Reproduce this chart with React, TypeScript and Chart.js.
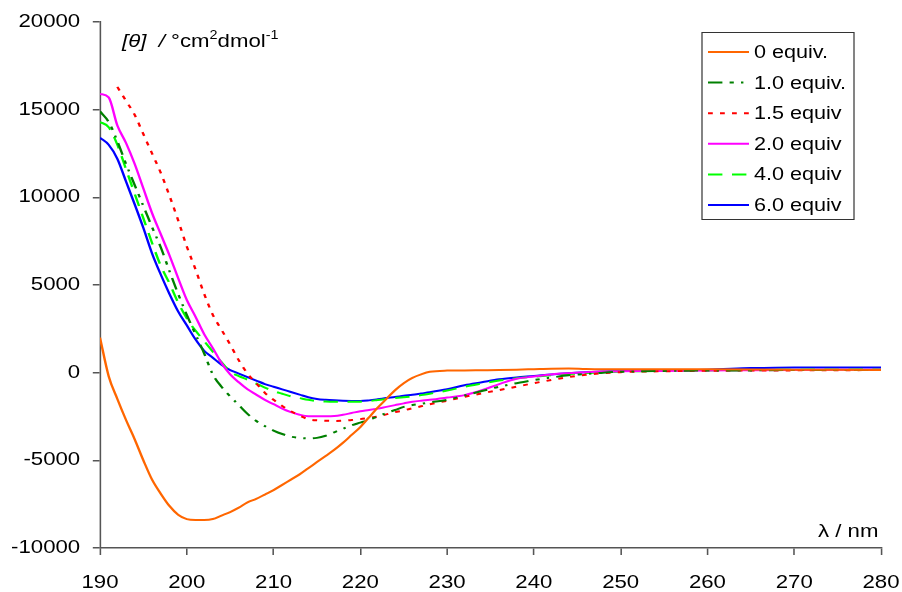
import React, { useEffect, useRef } from "react";
import { Chart, registerables } from "chart.js";

Chart.register(...registerables);

const wavelengths = [
  190, 191, 192, 193, 194, 195, 196, 197, 198, 199,
  200, 201, 202, 203, 204, 205, 206, 207, 208, 209,
  210, 211, 212, 213, 214, 215, 216, 217, 218, 219,
  220, 221, 222, 223, 224, 225, 226, 227, 228,
  230, 232, 234, 236, 238, 240, 242, 244, 246, 248, 250,
  255, 260, 265, 270, 275, 280,
];

const equiv0 = [
  2000, -200, -1500, -2700, -3800, -5000, -6100, -6900, -7600, -8100,
  -8350, -8400, -8400, -8350, -8150, -7950, -7700, -7400, -7200, -6950,
  -6700, -6400, -6100, -5800, -5450, -5100, -4750, -4400, -4000, -3550,
  -3100, -2550, -2000, -1500, -1000, -600, -300, -100, 50,
  120, 130, 140, 150, 170, 200, 230, 240, 210, 200, 200,
  200, 190, 180, 170, 160, 150,
];

const equiv10 = [
  14900, 14300, 13200, 11900, 10700, 9500, 8300, 7150, 5800, 4500,
  3300, 2200, 1100, -100, -800, -1350, -1850, -2350, -2750, -3050,
  -3300, -3500, -3650, -3720, -3750, -3720, -3600, -3400, -3200, -3000,
  -2850, -2700, -2500, -2300, -2130, -1950, -1850, -1780, -1700,
  -1550, -1300, -1050, -800, -600, -420, -280, -150, -80, 0, 50,
  100, 120, 130, 150, 150, 150,
];

const equiv15 = [
  null, null, 16300, 15500, 14700, 13600, 12500, 11400, 10100, 8700,
  7200, 5900, 4500, 3300, 2450, 1600, 700, -50, -600, -1150,
  -1550, -1900, -2200, -2450, -2650, -2720, -2740, -2750, -2740, -2700,
  -2650, -2580, -2500, -2380, -2250, -2150, -2030, -1920, -1800,
  -1600, -1380, -1180, -990, -800, -600, -420, -250, -120, -30, 30,
  80, 110, 120, 130, 140, 150,
];

const equiv20 = [
  15900, 15700, 14100, 13100, 11900, 10500, 9100, 7900, 6700, 5400,
  4150, 3200, 2200, 1400, 550, -100, -550, -950, -1250, -1550,
  -1800, -2050, -2250, -2400, -2480, -2480, -2480, -2470, -2400, -2300,
  -2200, -2130, -2050, -1950, -1850, -1750, -1660, -1600, -1550,
  -1420, -1280, -1000, -650, -350, -220, -100, -30, 20, 60, 80,
  100, 130, 140, 150, 160, 180,
];

const equiv40 = [
  14300, 14000, 13000, 11600, 10200, 8800, 7400, 6100, 5100, 4000,
  3100, 2400, 1800, 1200, 600, 50, -200, -400, -620, -850,
  -1050, -1200, -1350, -1450, -1550, -1620, -1650, -1660, -1660, -1660,
  -1655, -1620, -1560, -1500, -1450, -1400, -1350, -1280, -1200,
  -1020, -800, -620, -450, -320, -230, -150, -80, -20, 20, 60,
  100, 130, 150, 170, 180, 200,
];

const equiv60 = [
  13400, 13000, 12200, 10900, 9600, 8250, 6800, 5600, 4500, 3500,
  2700, 1900, 1250, 850, 450, 150, -50, -250, -450, -650,
  -800, -950, -1100, -1250, -1400, -1500, -1550, -1580, -1600, -1610,
  -1615, -1580, -1520, -1450, -1390, -1320, -1260, -1190, -1120,
  -950, -720, -550, -380, -270, -190, -100, -30, 20, 60, 100,
  150, 170, 260, 300, 300, 300,
];

const seriesLabels = ["0 equiv.", "1.0 equiv.", "1.5 equiv", "2.0 equiv", "4.0 equiv", "6.0 equiv"];
const xTicks = { min: 190, max: 280, step: 10 };
const yTicks = { min: -10000, max: 20000, step: 5000 };

const FONT = "'Liberation Sans', Arial, Helvetica, sans-serif";
// horizontal stretch of the whole picture (the original looks widened)
const SX = 1.2;

const toPoints = (vals: (number | null)[]) =>
  wavelengths.map((x, i) => ({ x, y: vals[i] }));

const stretchLegendPlugin = {
  id: "stretchLegend",
  beforeDraw(chart: any) {
    chart.ctx.save();
    chart.ctx.scale(SX, 1);
  },
  afterDraw(chart: any) {
    const ctx = chart.ctx;
    const boxX = 702 / SX;
    const boxY = 32;
    const boxW = 152 / SX;
    const boxH = 187;
    ctx.save();
    ctx.fillStyle = "#ffffff";
    ctx.fillRect(boxX, boxY, boxW, boxH);
    ctx.strokeStyle = "#333333";
    ctx.lineWidth = 1;
    ctx.strokeRect(boxX, boxY + 0.5, boxW, boxH);
    ctx.font = `18px ${FONT}`;
    ctx.textBaseline = "middle";
    ctx.textAlign = "left";
    chart.data.datasets.forEach((ds: any, i: number) => {
      const y = boxY + 20 + i * 30.6;
      ctx.beginPath();
      ctx.setLineDash(ds.borderDash || []);
      ctx.strokeStyle = ds.borderColor;
      ctx.lineWidth = 2;
      ctx.moveTo(708 / SX, y);
      ctx.lineTo(749 / SX, y);
      ctx.stroke();
      ctx.setLineDash([]);
      ctx.fillStyle = "#000000";
      ctx.fillText(ds.label, 754 / SX, y + 1);
    });
    ctx.restore();
    chart.ctx.restore();
  },
};

export default function App() {
  const canvasRef = useRef<HTMLCanvasElement | null>(null);

  useEffect(() => {
    if (!canvasRef.current) return;
    const mk = (i: number, vals: (number | null)[], color: string, dash: number[]) => ({
      label: seriesLabels[i],
      data: toPoints(vals),
      borderColor: color,
      backgroundColor: color,
      borderWidth: 2,
      borderDash: dash,
      pointRadius: 0,
      fill: false,
      tension: 0,
      cubicInterpolationMode: "monotone" as const,
    });
    const chart = new Chart(canvasRef.current, {
      type: "line",
      data: {
        datasets: [
          mk(0, equiv0, "#FF6600", []),
          mk(1, equiv10, "#008000", [12, 6, 3.5, 6, 2, 6]),
          mk(2, equiv15, "#FF0000", [4, 6]),
          mk(3, equiv20, "#FF00FF", []),
          mk(4, equiv40, "#00FF00", [12, 8]),
          mk(5, equiv60, "#0000FF", []),
        ],
      },
      plugins: [stretchLegendPlugin],
      options: {
        responsive: false,
        animation: false,
        layout: { padding: { top: 22, right: 902 - 881 / SX, left: 0, bottom: 0 } },
        plugins: {
          legend: { display: false },
          tooltip: { enabled: false },
          title: { display: false },
        },
        scales: {
          x: {
            type: "linear",
            min: xTicks.min,
            max: xTicks.max,
            afterFit: (s: any) => {
              s.height = 44;
              s.paddingLeft = 0;
              s.paddingRight = 0;
            },
            border: { display: true, color: "#555555", width: 1.5 },
            grid: { display: true, drawOnChartArea: false, drawTicks: true, tickLength: 7, color: "#555555", lineWidth: 1.3 },
            ticks: {
              stepSize: xTicks.step,
              color: "#000000",
              font: { family: FONT, size: 18.5 },
              padding: 17,
              maxRotation: 0,
              callback: (v: any) => String(v),
            },
          },
          y: {
            type: "linear",
            min: yTicks.min,
            max: yTicks.max,
            afterFit: (s: any) => {
              s.width = 100 / SX;
              s.paddingTop = 0;
              s.paddingBottom = 0;
            },
            border: { display: true, color: "#555555", width: 1.3 },
            grid: { display: true, drawOnChartArea: false, drawTicks: true, tickLength: 6, color: "#555555", lineWidth: 1.5 },
            ticks: {
              stepSize: yTicks.step,
              color: "#000000",
              font: { family: FONT, size: 18.5 },
              padding: 10.5,
              callback: (v: any) => String(v),
            },
          },
        },
      },
    });
    return () => chart.destroy();
  }, []);

  return (
    <div style={{ position: "absolute", left: 0, top: 0, width: 902, height: 592, background: "#fff" }}>
      <canvas ref={canvasRef} width={902} height={592} style={{ display: "block" }} />
      <div
        style={{
          position: "absolute",
          left: 122,
          top: 32,
          fontFamily: FONT,
          fontSize: 18.5,
          lineHeight: "18px",
          whiteSpace: "nowrap",
          color: "#000",
          transform: `scaleX(${SX})`,
          transformOrigin: "left top",
        }}
      >
        <span style={{ fontStyle: "italic" }}>[θ]</span>
        <span style={{ fontStyle: "italic" }}>&nbsp;&nbsp;/</span>
        <span>&nbsp;°cm</span>
        <span style={{ fontSize: 12, position: "relative", top: -8 }}>2</span>
        <span>dmol</span>
        <span style={{ fontSize: 12, position: "relative", top: -8 }}>-1</span>
      </div>
      <div
        style={{
          position: "absolute",
          right: 902 - 878,
          top: 522,
          fontFamily: FONT,
          fontSize: 18.5,
          lineHeight: "18px",
          whiteSpace: "nowrap",
          color: "#000",
          transform: `scaleX(${SX})`,
          transformOrigin: "right top",
        }}
      >
        λ / nm
      </div>
    </div>
  );
}
